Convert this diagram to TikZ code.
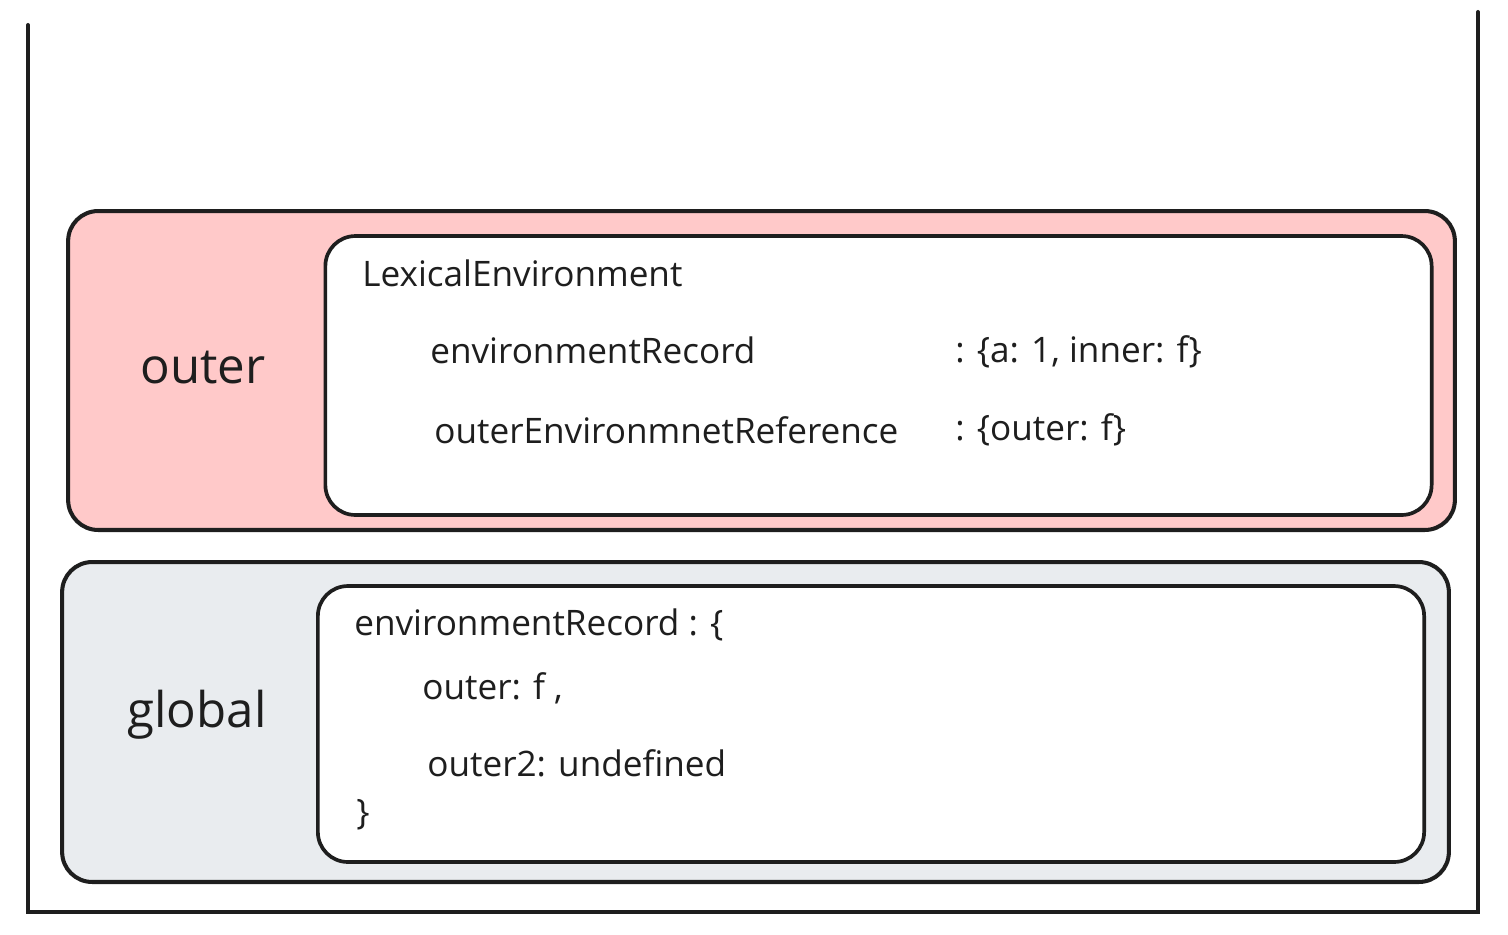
\documentclass[tikz,border=0pt]{standalone}
\usepackage{fontspec}
\setmainfont{Open Sans}
\usetikzlibrary{positioning}
\definecolor{ink}{HTML}{1E1E1E}
\definecolor{pinkfill}{HTML}{FFC9C9}
\definecolor{grayfill}{HTML}{E9ECEF}
\begin{document}
\begin{tikzpicture}[x=0.02cm, y=-0.02cm]

% Styles
\tikzstyle{frame}    = [draw=ink, line width=2.3pt, line cap=round]
\tikzstyle{env}      = [draw=ink, line width=2.3pt, rounded corners=0.6cm, minimum width=27.74cm]
\tikzstyle{rec}      = [draw=ink, fill=white, line width=2.1pt, rounded corners=0.6cm, minimum width=22.13cm]
\tikzstyle{envlabel} = [text=ink, font=\fontsize{28pt}{32pt}\selectfont]
\tikzstyle{txt}      = [text=ink, anchor=west, inner sep=0pt, font=\fontsize{20pt}{24pt}\selectfont]

\useasboundingbox (0,0) rectangle (1508,934);

% Stack frame
\coordinate (tl) at (28,25);
\coordinate (bl) at (28,912);
\coordinate (br) at (1478,912);
\coordinate (tr) at (1478,12);
\draw [frame] (tl) -- (bl) -- (br) -- (tr);

% Outer environment
\node [env, fill=pinkfill, minimum height=6.38cm] (outer) at (761.5,370.5) {};
\node [rec, minimum height=5.58cm] (outerrec) at (878.5,375.5) {};
\node [envlabel] (outerlbl) at (203,368) {outer};
\node [txt] (lex) at (362,273) {LexicalEnvironment};
\node [txt] (envrec) at (430,350) {environmentRecord};
\node [txt] (envval) at (955,352) {: \{a: 1, inner: f\}};
\node [txt] (outref) at (434,430) {outerEnvironmnetReference};
\node [txt] (outval) at (955,430) {: \{outer: f\}};

% Global environment
\node [env, fill=grayfill, minimum height=6.4cm] (global) at (755.5,722) {};
\node [rec, minimum height=5.52cm] (globalrec) at (871,724) {};
\node [envlabel] (globallbl) at (197,715) {global};
\node [txt] (genv) at (354,625) {environmentRecord : \{};
\node [txt] (gouter) at (422,688) {outer: f ,};
\node [txt] (gouter2) at (427,763) {outer2: undefined};
\node [txt] (gclose) at (356,815) {\}};

\end{tikzpicture}
\end{document}
